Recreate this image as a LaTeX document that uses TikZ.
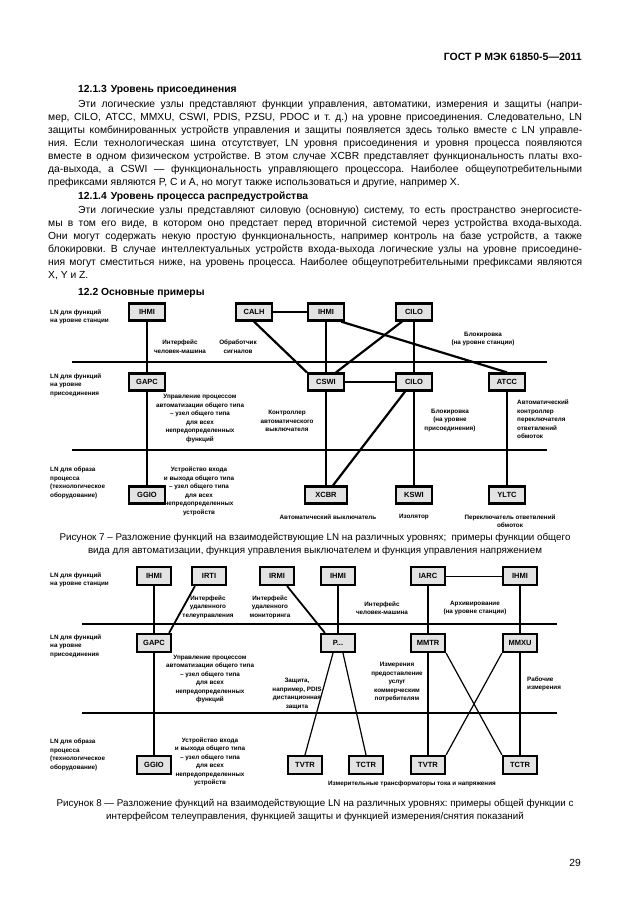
\documentclass[tikz,border=0pt]{standalone}
\usepackage{fontspec}
\setmainfont{Liberation Sans}
\usetikzlibrary{calc}
\frenchspacing
\newcommand{\bodyf}{\fontsize{10.3}{13}\selectfont}
\newcommand{\figf}{\fontsize{6.3}{8.5}\selectfont\bfseries}
\newcommand{\jline}[1]{\makebox[534pt][s]{#1}}
\newcommand{\jfirst}[1]{\makebox[504pt][s]{#1}}
\begin{document}
\begin{tikzpicture}[x=1pt,y=-1pt,
  txt/.style={anchor=base west, inner sep=0pt, font=\bodyf},
  lnbox/.style={draw=black, line width=2.2pt, fill=gray!22, minimum width=36pt, minimum height=17pt, inner sep=1pt, font=\fontsize{7.5}{8}\selectfont\bfseries},
  lnboxb/.style={lnbox, minimum width=34pt, minimum height=18pt},
  lbl/.style={inner sep=0pt, align=center, font=\figf},
  lbll/.style={inner sep=0pt, align=left, font=\figf, anchor=west},
  bus/.style={line width=2.8pt},
  conA/.style={line width=2.2pt},
  conC/.style={line width=1.8pt},
  conB/.style={line width=1.2pt},
  thinline/.style={line width=0.8pt},
  capf/.style={anchor=base, inner sep=0pt, font=\fontsize{9.8}{12}\selectfont}
]
\useasboundingbox[fill=white] (0,0) rectangle (630,913);

% ---------- header and text ----------
\node[anchor=base east, inner sep=0pt, font=\fontsize{10.5}{12}\selectfont\bfseries] (hdr) at (582,60) {ГОСТ Р МЭК 61850-5—2011};
\node[txt, font=\bodyf\bfseries] (h1) at (78,92) {12.1.3\hspace{4pt}Уровень присоединения};
\node[txt] (a1) at (78,107) {\jfirst{Эти логические узлы представляют функции управления, автоматики, измерения и защиты (напри-}};
\node[txt] (a2) at (48,120) {\jline{мер, CILO, ATCC, MMXU, CSWI, PDIS, PZSU, PDOC и т. д.) на уровне присоединения. Следовательно, LN}};
\node[txt] (a3) at (48,133) {\jline{защиты комбинированных устройств управления и защиты появляется здесь только вместе с LN управле-}};
\node[txt] (a4) at (48,146) {\jline{ния. Если технологическая шина отсутствует, LN уровня присоединения и уровня процесса появляются}};
\node[txt] (a5) at (48,159) {\jline{вместе в одном физическом устройстве. В этом случае XCBR представляет функциональность платы вхо-}};
\node[txt] (a6) at (48,172) {\jline{да-выхода, а CSWI — функциональность управляющего процессора. Наиболее общеупотребительными}};
\node[txt] (a7) at (48,185) {префиксами являются P, C и A, но могут также использоваться и другие, например X.};
\node[txt, font=\bodyf\bfseries] (h2) at (78,199) {12.1.4\hspace{4pt}Уровень процесса распредустройства};
\node[txt] (b1) at (78,213) {\jfirst{Эти логические узлы представляют силовую (основную) систему, то есть пространство энергосисте-}};
\node[txt] (b2) at (48,226) {\jline{мы в том его виде, в котором оно предстает перед вторичной системой через устройства входа-выхода.}};
\node[txt] (b3) at (48,239) {\jline{Они могут содержать некую простую функциональность, например контроль на базе устройств, а также}};
\node[txt] (b4) at (48,252) {\jline{блокировки. В случае интеллектуальных устройств входа-выхода логические узлы на уровне присоедине-}};
\node[txt] (b5) at (48,265) {\jline{ния могут сместиться ниже, на уровень процесса. Наиболее общеупотребительными префиксами являются}};
\node[txt] (b6) at (48,278) {X, Y и Z.};
\node[txt, font=\bodyf\bfseries] (h3) at (78,295) {12.2 Основные примеры};

% ---------- Figure 7 ----------
\coordinate (b71l) at (72,362); \coordinate (b71r) at (547,362);
\coordinate (b72l) at (72,450); \coordinate (b72r) at (547,450);
\draw[bus] (b71l) -- (b71r);
\draw[bus] (b72l) -- (b72r);

\node[lnbox] (ihmiA) at (147,312) {IHMI};
\node[lnbox] (calh) at (254,312) {CALH};
\node[lnbox] (ihmiB) at (326,312) {IHMI};
\node[lnbox] (ciloS) at (414,312) {CILO};
\node[lnbox] (gapc) at (147,382) {GAPC};
\node[lnbox] (cswi) at (326,382) {CSWI};
\node[lnbox] (ciloB) at (414,382) {CILO};
\node[lnbox] (atcc) at (507,382) {ATCC};
\node[lnbox] (ggio) at (147,495) {GGIO};
\node[lnbox, minimum width=42pt] (xcbr) at (326,495) {XCBR};
\node[lnbox] (kswi) at (414,495) {KSWI};
\node[lnbox] (yltc) at (507,495) {YLTC};

\draw[conA] (ihmiA) -- (gapc);
\draw[conA] (gapc) -- (ggio);
\draw[conA] (calh) -- (ihmiB);
\draw[conA] (calh.south) -- (cswi.north west);
\draw[conA] (ihmiB) -- (cswi);
\draw[conA] ([xshift=-4pt]ihmiB.south east) -- (atcc.north);
\draw[conA] (ciloS) -- (ciloB);
\draw[conA] ([xshift=-12pt]ciloS.south) -- ([xshift=10pt]cswi.north);
\draw[conA] (cswi) -- (ciloB);
\draw[conA] (cswi) -- (xcbr);
\draw[conA] ([xshift=-9pt]ciloB.south) -- ([xshift=7pt]xcbr.north);
\draw[conA] (ciloB) -- (kswi);
\draw[conA] (atcc) -- (yltc);

\node[lbll] (l7s) at (50,317) {LN для функций\\на уровне станции};
\node[lbll] (l7b) at (50,385) {LN для функций\\на уровне\\присоединения};
\node[lbll] (l7p) at (50,483) {LN для образа\\процесса\\(технологическое\\оборудование)};
\node[lbl] (t7a) at (180,346.5) {Интерфейс\\человек-машина};
\node[lbl] (t7b) at (238,346.5) {Обработчик\\сигналов};
\node[lbl] (t7c) at (483,339) {Блокировка\\(на уровне станции)};
\node[lbl] (t7d) at (200,418.5) {Управление процессом\\автоматизации общего типа\\– узел общего типа\\для всех\\непредопределенных\\функций};
\node[lbl] (t7e) at (287,421) {Контроллер\\автоматического\\выключателя};
\node[lbl] (t7f) at (450,420) {Блокировка\\(на уровне\\присоединения)};
\node[lbll] (t7g) at (517,419.5) {Автоматический\\контроллер\\переключателя\\ответвлений\\обмоток};
\node[lbl] (t7h) at (199,491.5) {Устройство входа\\и выхода общего типа\\– узел общего типа\\для всех\\непредопределенных\\устройств};
\node[lbl] (t7i) at (328,517) {Автоматический выключатель};
\node[lbl] (t7j) at (414,517) {Изолятор};
\node[lbl] (t7k) at (510,521) {Переключатель ответвлений\\обмоток};

\node[capf] (c7a) at (315,540) {Рисунок 7 – Разложение функций на взаимодействующие LN на различных уровнях;\ \ примеры функции общего};
\node[capf] (c7b) at (315,553) {вида для автоматизации, функция управления выключателем и функция управления напряжением};

% ---------- Figure 8 ----------
\coordinate (b81l) at (82,624); \coordinate (b81r) at (557,624);
\coordinate (b82l) at (82,713); \coordinate (b82r) at (557,713);
\draw[bus] (b81l) -- (b81r);
\draw[bus] (b82l) -- (b82r);

\node[lnboxb] (ihmi1) at (154,576) {IHMI};
\node[lnboxb] (irti) at (209,576) {IRTI};
\node[lnboxb] (irmi) at (277,576) {IRMI};
\node[lnboxb] (ihmi2) at (338,576) {IHMI};
\node[lnboxb] (iarc) at (428,576) {IARC};
\node[lnboxb] (ihmi3) at (520,576) {IHMI};
\node[lnboxb] (gapc8) at (154,643) {GAPC};
\node[lnboxb] (p8) at (338,643) {P...};
\node[lnboxb] (mmtr) at (428,643) {MMTR};
\node[lnboxb] (mmxu) at (520,643) {MMXU};
\node[lnboxb] (ggio8) at (154,765) {GGIO};
\node[lnboxb] (tvtrA) at (305,765) {TVTR};
\node[lnboxb] (tctrA) at (366,765) {TCTR};
\node[lnboxb] (tvtrB) at (428,765) {TVTR};
\node[lnboxb] (tctrB) at (520,765) {TCTR};

\draw[conB] (ihmi1) -- (gapc8);
\draw[conB] (gapc8) -- (ggio8);
\draw[conC] ([xshift=4pt]irti.south west) -- ([xshift=-3pt]gapc8.north east);
\draw[conC] ([xshift=-8pt]irmi.south east) -- ([xshift=5pt]p8.north west);
\draw[conB] (ihmi2) -- (p8);
\draw[thinline] (iarc) -- (ihmi3);
\draw[conB] (iarc) -- (mmtr);
\draw[conB] (ihmi3) -- (mmxu);
\draw[conB] ([xshift=-5pt]p8.south) -- (tvtrA.north);
\draw[conB] ([xshift=5pt]p8.south) -- (tctrA.north);
\draw[conB] (mmtr) -- (tvtrB);
\draw[conB] (mmxu) -- (tctrB);
\draw[conB] (mmtr.south east) -- (tctrB.north west);
\draw[conB] (mmxu.south west) -- (tvtrB.north east);

\node[lbll] (l8s) at (50,580) {LN для функций\\на уровне станции};
\node[lbll] (l8b) at (50,646) {LN для функций\\на уровне\\присоединения};
\node[lbll] (l8p) at (50,755) {LN для образа\\процесса\\(технологическое\\оборудование)};
\node[lbl] (t8a) at (208,607) {Интерфейс\\удаленного\\телеуправления};
\node[lbl] (t8b) at (270,607) {Интерфейс\\удаленного\\мониторинга};
\node[lbl] (t8c) at (382,608) {Интерфейс\\человек-машина};
\node[lbl] (t8d) at (475,608) {Архивирование\\(на уровне станции)};
\node[lbl] (t8e) at (210,679) {Управление процессом\\автоматизации общего типа\\– узел общего типа\\для всех\\непредопределенных\\функций};
\node[lbl] (t8f) at (297,694) {Защита,\\например, PDIS\\дистанционная\\защита};
\node[lbl] (t8g) at (397,682) {Измерения\\предоставление\\услуг\\коммерческим\\потребителям};
\node[lbll] (t8h) at (527,684) {Рабочие\\измерения};
\node[lbl] (t8i) at (210,762) {Устройство входа\\и выхода общего типа\\– узел общего типа\\для всех\\непредопределенных\\устройств};
\node[lbl] (t8j) at (412,784) {Измерительные трансформаторы тока и напряжения};

\node[capf] (c8a) at (315,806) {Рисунок 8 — Разложение функций на взаимодействующие LN на различных уровнях: примеры общей функции с};
\node[capf] (c8b) at (315,819) {интерфейсом телеуправления, функцией защиты и функцией измерения/снятия показаний};

\node[anchor=base east, inner sep=0pt, font=\bodyf] (pg) at (581,866) {29};
\end{tikzpicture}
\end{document}
